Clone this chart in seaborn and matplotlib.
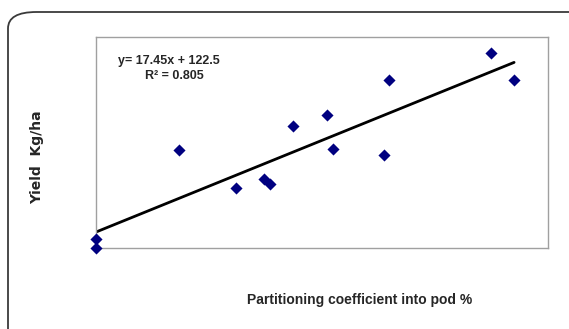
import numpy as np
import pandas as pd
import matplotlib
matplotlib.use("Agg")
import matplotlib.pyplot as plt
import seaborn as sns
from matplotlib.patches import FancyBboxPatch

# values (no tick labels in the original)
partitioning = [0.0, 0.0, 4.78, 8.06, 9.67, 10.01, 11.33, 13.29, 13.63, 16.57, 16.86, 22.73, 24.05]
yield_kg_ha = [83, 105, 325, 231, 254, 241, 385, 412, 328, 313, 499, 566, 499]

slope = 17.45
intercept = 122.5
r_squared = 0.805

df = pd.DataFrame({"x": partitioning, "y": yield_kg_ha})

sns.set_style("white")
plt.rcParams['font.family'] = ['Liberation Sans', 'DejaVu Sans']

fig = plt.figure(figsize=(5.69, 3.29), dpi=100)
ax = fig.add_axes([96 / 569, 1 - 248 / 329, 452 / 569, 211 / 329])

# outer rounded frame
frame = FancyBboxPatch((8 / 569, -0.1), 1.2, 1 - 12 / 329 + 0.1,
                       boxstyle="round,pad=0,rounding_size=0.05",
                       transform=fig.transFigure, fill=False,
                       edgecolor="#3a3a3a", linewidth=1.3, zorder=0)
fig.patches.append(frame)

line_x = np.array([min(partitioning), max(partitioning)])
line_df = pd.DataFrame({"x": line_x, "y": slope * line_x + intercept})
sns.lineplot(data=line_df, x="x", y="y", ax=ax, color="black", linewidth=2, zorder=2)

sns.scatterplot(data=df, x="x", y="y", ax=ax, marker="D", color="#000080",
                s=38, edgecolor="#000080", linewidth=0, zorder=3, clip_on=False)

ax.set_xlim(0, 26)
ax.set_ylim(83, 605)
ax.set_xticks([])
ax.set_yticks([])
for sp in ax.spines.values():
    sp.set_color("#a0a0a0")
    sp.set_linewidth(1)

ax.set_xlabel("")
ax.set_ylabel("")
fig.text(360 / 569, 1 - 300 / 329, "Partitioning coefficient into pod %",
         ha="center", va="center", fontsize=10, fontweight="bold")
fig.text(37 / 569, 1 - 157 / 329, "Yield  Kg/ha", rotation=90,
         ha="center", va="center", fontsize=10, fontweight="bold",
         family=['DejaVu Sans'])

ax.text(118 / 569, 1 - 61 / 329, f"y= {slope}x + {intercept}", transform=fig.transFigure,
        ha="left", va="center", fontsize=9, fontweight="bold")
ax.text(145 / 569, 1 - 76 / 329, f"R\u00b2 = {r_squared}", transform=fig.transFigure,
        ha="left", va="center", fontsize=9, fontweight="bold")

fig.savefig("out.png", dpi=100)
plt.close(fig)
